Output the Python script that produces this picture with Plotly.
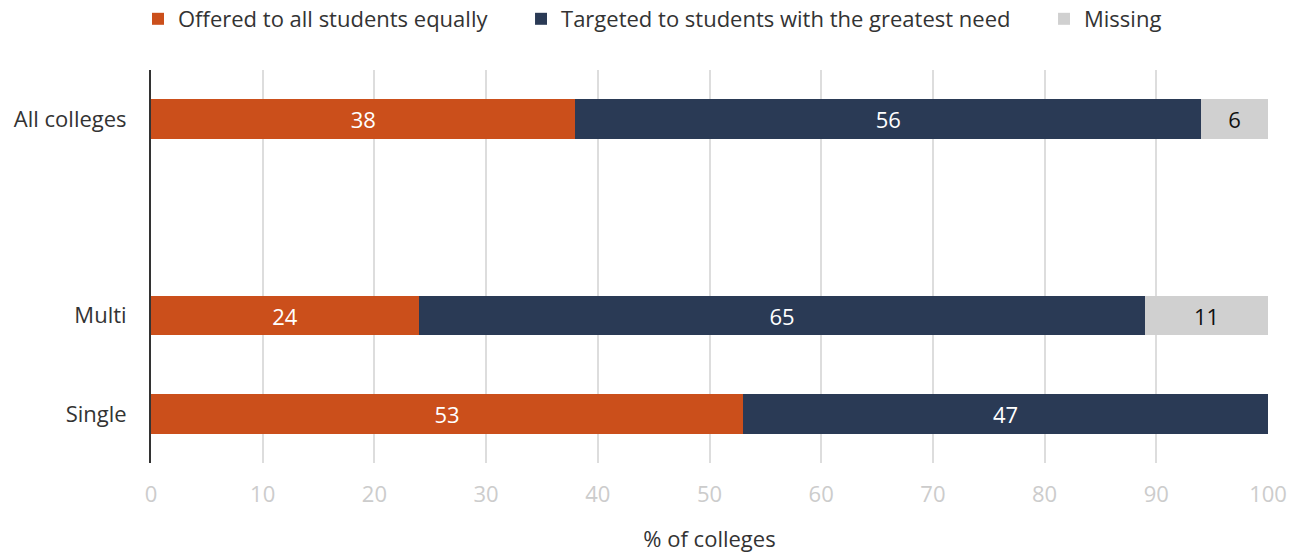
import plotly.graph_objects as go

# Categories (bottom to top); the blank entry leaves a gap under "All colleges"
categories = ["Single", "Multi", " ", "All colleges"]
bar_groups = ["All colleges", "Multi", "Single"]

offered_equally = [38, 24, 53]
targeted_need = [56, 65, 47]
missing = [6, 11, None]

x_ticks = [0, 10, 20, 30, 40, 50, 60, 70, 80, 90, 100]

FONT = "Open Sans"
SIZE = 22
ORANGE = "#CB4F1B"
NAVY = "#2A3A55"
GRAY = "#D0D0D0"

# non-breaking spaces widen the gap between legend entries
PAD = "\u00a0" * 5

fig = go.Figure()

series = [
    ("Offered to all students equally", offered_equally, ORANGE, "white"),
    ("Targeted to students with the greatest need", targeted_need, NAVY, "white"),
    ("Missing", missing, GRAY, "#111111"),
]

for name, vals, color, txtcolor in series:
    fig.add_trace(go.Bar(
        name=name + PAD,
        y=bar_groups,
        x=vals,
        orientation="h",
        marker=dict(color=color, line=dict(width=0)),
        text=[("" if v is None else str(v)) for v in vals],
        textposition="inside",
        insidetextanchor="middle",
        textangle=0,
        textfont=dict(family=FONT, size=SIZE, color=txtcolor),
        width=0.4,
        hovertemplate=name + ": %{x}<extra></extra>",
    ))

fig.update_layout(
    barmode="stack",
    width=1297,
    height=556,
    margin=dict(l=151, r=29, t=70, b=93, autoexpand=False),
    plot_bgcolor="white",
    paper_bgcolor="white",
    font=dict(family=FONT, size=SIZE, color="#333333"),
    legend=dict(
        orientation="h",
        traceorder="normal",
        xref="container",
        x=138 / 1297,
        xanchor="left",
        yref="container",
        y=1 - 19 / 556,
        yanchor="middle",
        font=dict(family=FONT, size=SIZE, color="#333333"),
        itemwidth=30,
        tracegroupgap=0,
    ),
)

fig.update_xaxes(
    range=[0, 100],
    tickvals=x_ticks,
    ticktext=[str(t) for t in x_ticks],
    showgrid=True,
    gridcolor="#DDDDDD",
    gridwidth=2,
    zeroline=False,
    showline=False,
    tickfont=dict(family=FONT, size=SIZE, color="#CCCCCC"),
    ticks="",
    ticklabelstandoff=16,
    title=dict(text="% of colleges", font=dict(family=FONT, size=SIZE, color="#333333"), standoff=24),
    fixedrange=True,
)

fig.update_yaxes(
    type="category",
    categoryorder="array",
    categoryarray=categories,
    range=[-0.5, 3.5],
    showgrid=False,
    zeroline=False,
    showline=True,
    linecolor="#333333",
    linewidth=2,
    ticks="",
    ticklabelstandoff=18,
    tickfont=dict(family=FONT, size=SIZE, color="#333333"),
    fixedrange=True,
)

fig.write_html("out.html")
